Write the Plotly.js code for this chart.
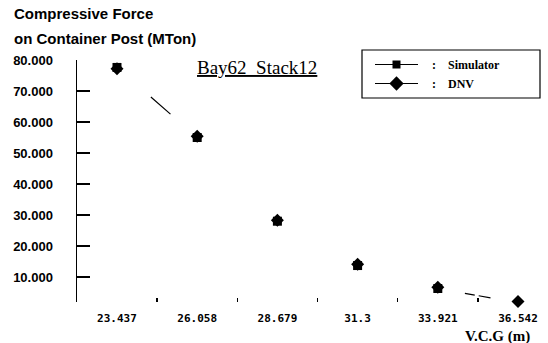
<!DOCTYPE html>
<html>
<head>
<meta charset="utf-8">
<script src="https://cdn.plot.ly/plotly-3.0.1.min.js"></script>
<style>html,body{margin:0;padding:0;background:#fff;}#chart{width:548px;height:343px;}</style>
</head>
<body>
<div id="chart"></div>
<script>
// V.C.G (m) positions
var vcg = [23.437, 26.058, 28.679, 31.3, 33.921, 36.542];
var vcgLabels = ["23.437", "26.058", "28.679", "31.3", "33.921", "36.542"];
// Compressive force on container post (MTon, thousands)
var simulator = [77.6, 55.0, 28.0, 13.7, 6.3, 1.7];
var dnv = [77.2, 55.4, 28.3, 14.1, 6.7, 2.1];
var yTickVals = [10, 20, 30, 40, 50, 60, 70, 80];
var yTickText = ["10.000", "20.000", "30.000", "40.000", "50.000", "60.000", "70.000", "80.000"];

var serif = "Liberation Serif, Times New Roman, serif";
var sans = "Liberation Sans, Arial, sans-serif";

var traces = [
  // connecting line (mostly faded in the scan)
  {x: vcg, y: simulator, mode: "lines", showlegend: false, hoverinfo: "skip",
   line: {color: "black", width: 1.2, dash: "0px,45px,26px,354px,10px,4px,12px,2000px"}},
  {x: vcg, y: simulator, mode: "markers", name: "Simulator", showlegend: false,
   marker: {symbol: "square", size: 9, color: "black"}, cliponaxis: false},
  {x: vcg, y: dnv, mode: "markers", name: "DNV", showlegend: false,
   marker: {symbol: "diamond", size: 10, color: "black"}, cliponaxis: false},
  // legend entries
  {x: [null], y: [null], mode: "lines+markers", name: "\u00a0\u00a0\u00a0:\u00a0\u00a0\u00a0\u00a0Simulator",
   line: {color: "black", width: 1.2}, marker: {symbol: "square", size: 8, color: "black"}},
  {x: [null], y: [null], mode: "lines+markers", name: "\u00a0\u00a0\u00a0:\u00a0\u00a0\u00a0\u00a0DNV",
   line: {color: "black", width: 1.2}, marker: {symbol: "diamond", size: 11, color: "black"}}
];

var W = 463, H = 242, L = 77, T = 60;
function px(x){return (x - L) / W;}
function py(y){return (T + H - y) / H;}

var layout = {
  width: 548, height: 343,
  margin: {l: L, r: 8, t: T, b: 41},
  paper_bgcolor: "white", plot_bgcolor: "white",
  showlegend: true,
  legend: {x: px(370), y: py(50), xanchor: "left", yanchor: "top",
           bgcolor: "rgba(0,0,0,0)", borderwidth: 0, itemwidth: 43, tracegroupgap: 0,
           font: {family: serif, size: 12, color: "black", weight: "bold"}},
  xaxis: {range: [22.13, 37.261], showgrid: false, zeroline: false, showline: false,
          tickmode: "array", tickvals: vcg, ticktext: vcgLabels,
          ticks: "", ticklabelstandoff: 8,
          tickfont: {family: "DejaVu Sans Mono, monospace", size: 11, color: "black", weight: "bold"},
          minor: {ticks: "inside", ticklen: 4, tickwidth: 1.2, tickcolor: "black",
                  tickmode: "linear", tick0: 24.7475, dtick: 2.621, showgrid: false}},
  yaxis: {range: [1.94, 80], showgrid: false, zeroline: false, showline: true,
          linecolor: "black", linewidth: 1.5,
          tickmode: "array", tickvals: yTickVals, ticktext: yTickText,
          ticks: "inside", ticklen: 13, tickwidth: 1.5, tickcolor: "black",
          ticklabelstandoff: 20,
          tickfont: {family: sans, size: 13, color: "black", weight: "bold"}},
  shapes: [
    {type: "rect", xref: "paper", yref: "paper", x0: px(362), x1: px(540), y0: py(98), y1: py(50),
     line: {color: "black", width: 1.2}, fillcolor: "rgba(0,0,0,0)"}
  ],
  annotations: [
    {xref: "paper", yref: "paper", x: px(12), y: py(14), xanchor: "left", yanchor: "middle",
     text: "Compressive Force", showarrow: false,
     font: {family: sans, size: 15, color: "black", weight: "bold"}},
    {xref: "paper", yref: "paper", x: px(12), y: py(38), xanchor: "left", yanchor: "middle",
     text: "on Container Post (MTon)", showarrow: false,
     font: {family: sans, size: 15, color: "black", weight: "bold"}},
    {xref: "paper", yref: "paper", x: px(257), y: py(67), xanchor: "center", yanchor: "middle",
     text: "<u>Bay62_Stack12</u>", showarrow: false,
     font: {family: serif, size: 19, color: "black"}},
    {xref: "paper", yref: "paper", x: px(497), y: py(336), xanchor: "center", yanchor: "middle",
     text: "V.C.G (m)", showarrow: false,
     font: {family: serif, size: 15, color: "black", weight: "bold"}}
  ]
};

Plotly.newPlot("chart", traces, layout, {displayModeBar: false, staticPlot: true});
</script>
</body>
</html>
